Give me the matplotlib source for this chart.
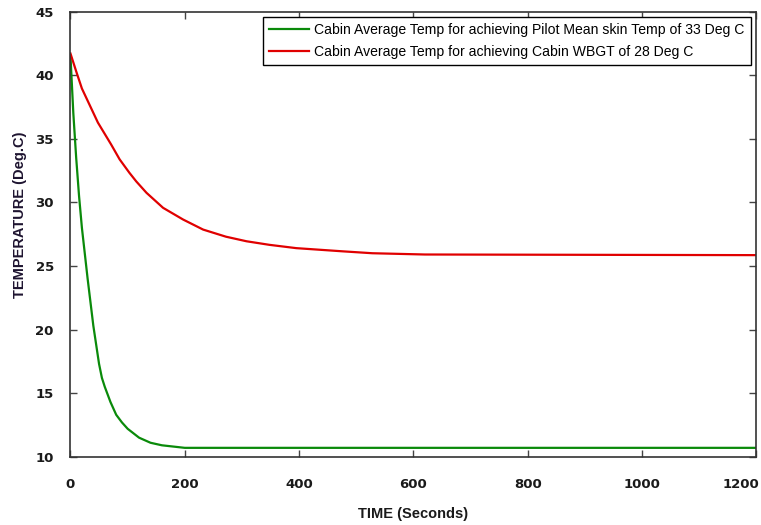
import matplotlib
matplotlib.use("Agg")
import matplotlib.pyplot as plt
from matplotlib.transforms import ScaledTranslation

# Data
green_t = [0, 5, 10, 15, 20, 25, 30, 40, 50, 55, 60, 70, 80, 90, 100, 120, 140, 160, 180, 200, 1200]
green_T = [41.5, 37.0, 33.5, 30.5, 28.0, 26.0, 24.0, 20.3, 17.3, 16.2, 15.5, 14.3, 13.3, 12.7,
           12.2, 11.5, 11.1, 10.9, 10.8, 10.7, 10.7]

red_t = [0, 10, 20, 48, 71, 86, 103, 115, 133, 162, 197, 232, 272, 308, 348, 395, 476, 528, 620, 1200]
red_T = [41.7, 40.3, 38.95, 36.27, 34.56, 33.38, 32.33, 31.65, 30.75, 29.57, 28.65, 27.86, 27.3,
         26.94, 26.66, 26.4, 26.15, 26.0, 25.9, 25.85]

green_label = "Cabin Average Temp for achieving Pilot Mean skin Temp of 33 Deg C"
red_label = "Cabin Average Temp for achieving Cabin WBGT of 28 Deg C"

x_ticks = [0, 200, 400, 600, 800, 1000, 1200]
y_ticks = [10, 15, 20, 25, 30, 35, 40, 45]

fig = plt.figure(figsize=(7.61, 5.25), dpi=100)
ax = fig.add_axes([0.0926, 0.130, 0.9014, 0.848])

ax.plot(green_t, green_T, color="#0a8a0a", lw=1.6, label=green_label)
ax.plot(red_t, red_T, color="#e00000", lw=1.6, label=red_label)

ax.set_xlim(0, 1200)
ax.set_ylim(10, 45)
ax.set_xticks(x_ticks)
ax.set_yticks(y_ticks)

for s in ax.spines.values():
    s.set_color("#333333")
    s.set_linewidth(1.2)

ax.tick_params(direction="in", length=5, width=1, color="#444444",
               top=True, right=True)
ax.tick_params(axis="x", pad=15)
ax.tick_params(axis="y", pad=12)
for lab in ax.get_xticklabels() + ax.get_yticklabels():
    lab.set_fontfamily("DejaVu Sans")
    lab.set_fontweight("bold")
    lab.set_fontsize(9.5)
    lab.set_color("#1a1a1a")

# last x tick label sits inside the image, as in the reference
last = ax.get_xticklabels()[-1]
last.set_horizontalalignment("right")
last.set_transform(last.get_transform() + ScaledTranslation(3 / 100, 0, fig.dpi_scale_trans))

ax.set_xlabel("TIME (Seconds)", fontsize=10.5, fontweight="bold", family="Liberation Sans",
              color="#1a1a1a", labelpad=12)
ax.set_ylabel("TEMPERATURE (Deg.C)", fontsize=10.5, fontweight="bold", family="Liberation Sans",
              color="#1e1430")
ax.yaxis.set_label_coords(-0.064, 0.543)

leg = ax.legend(loc="upper right", bbox_to_anchor=(0.992, 0.988), borderaxespad=0,
                fancybox=False, framealpha=1, edgecolor="black",
                prop={"family": "Liberation Sans", "size": 10.1},
                handlelength=2.8, handletextpad=0.4, labelspacing=0.55, borderpad=0.45)
leg.get_frame().set_linewidth(1.0)

fig.savefig("out.png", dpi=100)
